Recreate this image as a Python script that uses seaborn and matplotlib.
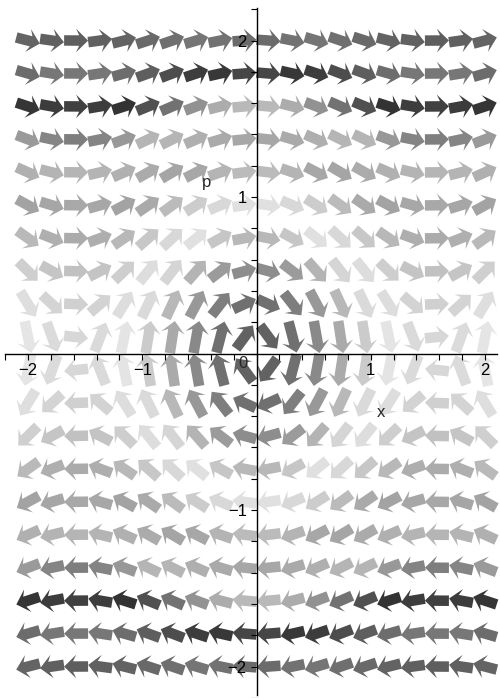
import numpy as np
import matplotlib
matplotlib.use("Agg")
import matplotlib.pyplot as plt
from matplotlib.ticker import FixedLocator, MultipleLocator
from matplotlib.colors import hsv_to_rgb
import seaborn as sns

# ---- data: 20 x 20 direction field of  x' = p ,  p' = -sin(x) cos(x)
x_grid = np.linspace(-2.0, 2.0, 20)
p_grid = np.linspace(-2.0, 2.0, 20)
x_ticks = [-2, -1, 1, 2]
p_ticks = [-2, -1, 1, 2]
x_labels = ["\u22122", "\u22121", "1", "2"]
p_labels = ["\u22122", "\u22121", "1", "2"]


def field(x, p):
    return p, -np.sin(x) * np.cos(x)


def energy(x, p):
    return p ** 2 + np.sin(x) ** 2


sns.set_theme(style="white")
plt.rcParams["font.family"] = ["Liberation Sans", "DejaVu Sans"]

X, P = np.meshgrid(x_grid, p_grid)
U, V = field(X, P)
n = np.hypot(U, V)
L = 0.21
Un, Vn = U / n * L, V / n * L

# colour: hue by energy, rendered as gray (luminance)
E = energy(X, P)
hue = E / E.max()
hsv = np.stack([hue.ravel() % 1.0, np.ones(hue.size), np.ones(hue.size)], axis=1)
rgb = hsv_to_rgb(hsv)
lum = 0.3 * rgb[:, 0] + 0.59 * rgb[:, 1] + 0.11 * rgb[:, 2]
g = 0.1 + 0.9 * lum
colors = np.stack([g, g, g], axis=1)

fig = plt.figure(figsize=(5.0, 6.98), dpi=100)
ax = fig.add_axes([0, 0, 1, 1])
ax.set_facecolor("white")
ax.set_axisbelow(False)

ax.quiver(X.ravel(), P.ravel(), Un.ravel(), Vn.ravel(), color=colors,
          angles="xy", scale_units="xy", scale=1, pivot="middle",
          width=0.021, headwidth=2.25, headlength=1.15, headaxislength=0.85,
          zorder=2)

ax.set_xlim(-2.245, 2.131)
ax.set_ylim(-2.201, 2.259)

for s in ["top", "right"]:
    ax.spines[s].set_visible(False)
ax.spines["left"].set_position(("data", 0))
ax.spines["bottom"].set_position(("data", 0))
ax.spines["left"].set_bounds(-2.182, 2.208)
ax.spines["bottom"].set_bounds(-2.2, 2.105)
for s in ["left", "bottom"]:
    ax.spines[s].set_color("black")
    ax.spines[s].set_linewidth(1.0)
    ax.spines[s].set_zorder(5)

ax.xaxis.set_major_locator(FixedLocator(x_ticks))
ax.yaxis.set_major_locator(FixedLocator(p_ticks))
ax.set_xticklabels(x_labels)
ax.set_yticklabels(p_labels)
ax.xaxis.set_minor_locator(MultipleLocator(0.2))
ax.yaxis.set_minor_locator(MultipleLocator(0.2))
ax.xaxis.set_ticks_position("bottom")
ax.yaxis.set_ticks_position("left")
ax.xaxis.set_zorder(5)
ax.yaxis.set_zorder(5)
ax.tick_params(which="both", direction="out", length=4, width=0.8,
               color="black", labelsize=12, labelcolor="black")
ax.tick_params(axis="x", which="major", pad=3)
ax.tick_params(axis="y", which="major", pad=3)

ax.text(-0.12, -0.063, "0", fontsize=12, ha="center", va="center", zorder=6)
ax.text(1.09, -0.374, "x", fontsize=12, ha="center", va="center", zorder=6)
ax.text(-0.44, 1.09, "p", fontsize=12, ha="center", va="center", zorder=6)

fig.savefig("out.png", dpi=100, facecolor="white")
